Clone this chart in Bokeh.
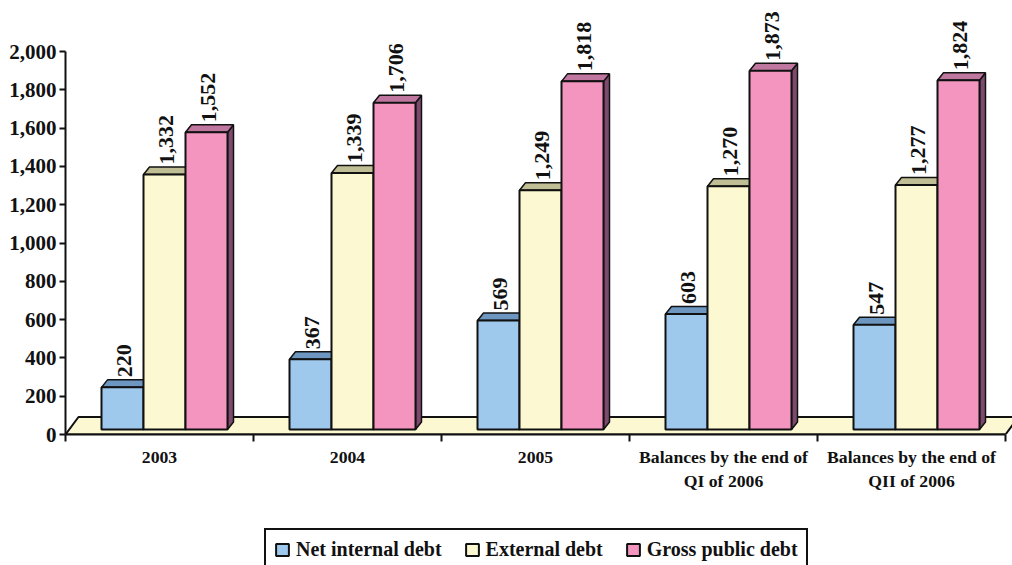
from bokeh.embed import file_html
from bokeh.layouts import column
from bokeh.resources import INLINE
from bokeh.plotting import figure
from bokeh.models import Range1d, LinearAxis, FixedTicker, Legend, LegendItem, ColumnDataSource
from bokeh.core.properties import value

categories = ["2003", "2004", "2005",
              "Balances by the end of\nQI of 2006",
              "Balances by the end of\nQII of 2006"]
net_internal = [220, 367, 569, 603, 547]
external = [1332, 1339, 1249, 1270, 1277]
gross = [1552, 1706, 1818, 1873, 1824]
series_names = ["Net internal debt", "External debt", "Gross public debt"]
y_ticks = [0, 200, 400, 600, 800, 1000, 1200, 1400, 1600, 1800, 2000]

FONT = "Liberation Serif"
PX_PER_CAT = 188.0
PX_PER_UNIT = 0.1915
FRAME_W, FRAME_H = 947, 434

# pseudo-3D extrusion, given in axis units
DX = 6 / PX_PER_CAT
DY = 7.5 / PX_PER_UNIT
BAR_W = 42 / PX_PER_CAT
GROUP_START = 36 / PX_PER_CAT
BAR_BASE = 5 / PX_PER_UNIT
FLOOR_DX = 13 / PX_PER_CAT
FLOOR_DY = 17.5 / PX_PER_UNIT

FRONT = ["#9FC9EC", "#FBF8D2", "#F395BF"]
TOP = ["#6D97C1", "#BFBE94", "#C0779F"]
SIDE = ["#557A9E", "#9A9A78", "#7D4A6D"]
EDGE = "#111111"

p = figure(width=1012, height=500, frame_width=FRAME_W, frame_height=FRAME_H,
           x_range=Range1d(0, FRAME_W / PX_PER_CAT),
           y_range=Range1d(0, FRAME_H / PX_PER_UNIT),
           output_backend="svg", toolbar_location=None, x_axis_type=None, y_axis_type=None,
           min_border_left=65, min_border_right=0, min_border_top=0, min_border_bottom=66)
p.grid.visible = False
p.outline_line_color = None
p.background_fill_color = "white"

# y axis
y_axis = LinearAxis(ticker=FixedTicker(ticks=y_ticks), bounds=(0, 2000),
                    major_label_overrides={v: f"{v:,}" for v in y_ticks})
y_axis.axis_line_color = EDGE
y_axis.axis_line_width = 2
y_axis.major_tick_line_color = EDGE
y_axis.major_tick_line_width = 2
y_axis.major_tick_out = 6
y_axis.major_tick_in = 0
y_axis.minor_tick_line_color = None
y_axis.major_label_standoff = 3
y_axis.major_label_text_font = FONT
y_axis.major_label_text_font_style = "bold"
y_axis.major_label_text_font_size = "21px"
y_axis.major_label_text_color = "#111111"
p.add_layout(y_axis, "left")

# x axis: ticks on category boundaries
n = len(categories)
x_axis = LinearAxis(ticker=FixedTicker(ticks=list(range(n + 1))), bounds=(0, n),
                    major_label_overrides={i: "" for i in range(n + 1)})
x_axis.axis_line_color = EDGE
x_axis.axis_line_width = 2
x_axis.major_tick_line_color = EDGE
x_axis.major_tick_line_width = 2
x_axis.major_tick_out = 7
x_axis.major_tick_in = 0
x_axis.minor_tick_line_color = None
x_axis.major_label_text_font_size = "1px"
x_axis.major_label_standoff = 0
p.add_layout(x_axis, "below")

# category labels centred between the ticks
centers = [i + 0.5 for i in range(n)]
label_axis = LinearAxis(ticker=FixedTicker(ticks=centers), bounds=(0, n),
                        major_label_overrides=dict(zip(centers, categories)))
label_axis.axis_line_color = None
label_axis.major_tick_line_color = None
label_axis.minor_tick_line_color = None
label_axis.major_tick_out = 0
label_axis.major_tick_in = 0
label_axis.major_label_standoff = 5
label_axis.major_label_text_font = FONT
label_axis.major_label_text_font_style = "bold"
label_axis.major_label_text_font_size = "17.7px"
label_axis.major_label_text_color = "#111111"
p.add_layout(label_axis, "below")

# floor slab
x_end = n
p.patch([0, FLOOR_DX, x_end + FLOOR_DX, x_end], [0, FLOOR_DY, FLOOR_DY, 0],
        fill_color="#FBF8D2", line_color=EDGE, line_width=2)

for s, vals in enumerate([net_internal, external, gross]):
    left = [i + GROUP_START + s * BAR_W for i in range(n)]
    right = [x + BAR_W for x in left]
    top = [BAR_BASE + v for v in vals]

    # extruded side and top, then the front face over them
    p.patches([[r, r + DX, r + DX, r] for r in right],
              [[BAR_BASE, BAR_BASE + DY, t + DY, t] for t in top],
              fill_color=SIDE[s], line_color=EDGE, line_width=1.5)
    p.patches([[l, l + DX, r + DX, r] for l, r in zip(left, right)],
              [[t, t + DY, t + DY, t] for t in top],
              fill_color=TOP[s], line_color=EDGE, line_width=1.5)
    p.quad(left=left, right=right, bottom=BAR_BASE, top=top,
           fill_color=FRONT[s], line_color=EDGE, line_width=2)

# rotated value labels, drawn after every bar
for s, vals in enumerate([net_internal, external, gross]):
    source = ColumnDataSource(dict(
        x=[i + GROUP_START + (s + 0.5) * BAR_W for i in range(n)],
        y=[BAR_BASE + v for v in vals],
        text=[f"{v:,}" for v in vals]))
    p.text(x="x", y="y", text="text", source=source, angle=1.5708, angle_units="rad",
           text_align="left", text_baseline="middle", x_offset=2, y_offset=-10,
           text_font=value(FONT), text_font_style="bold", text_font_size="22px",
           text_color="#111111")

# strip below the chart that carries the legend; its swatch quads sit outside the range
key = figure(width=1012, height=65, x_range=Range1d(0, 1), y_range=Range1d(0, 1),
             output_backend="svg", toolbar_location=None, x_axis_type=None, y_axis_type=None,
             min_border=0)
key.grid.visible = False
key.outline_line_color = None
legend_items = []
for s, name in enumerate(series_names):
    swatch = key.quad(left=[2], right=[3], top=[3], bottom=[2],
                      fill_color=FRONT[s], line_color=EDGE, line_width=2)
    legend_items.append(LegendItem(label=name, renderers=[swatch]))

legend = Legend(items=legend_items, orientation="horizontal", location=(199, -6))
legend.border_line_color = EDGE
legend.border_line_alpha = 1
legend.border_line_width = 2
legend.background_fill_color = "white"
legend.background_fill_alpha = 1
legend.label_text_font = FONT
legend.label_text_font_style = "bold"
legend.label_text_font_size = "20px"
legend.label_text_color = "#111111"
legend.glyph_width = 16
legend.glyph_height = 15
legend.label_standoff = 6
legend.spacing = 22
legend.padding = 8
legend.margin = 0
key.add_layout(legend, "center")

page = column(p, key, spacing=0)
open("out.html", "w").write(file_html(page, INLINE))
